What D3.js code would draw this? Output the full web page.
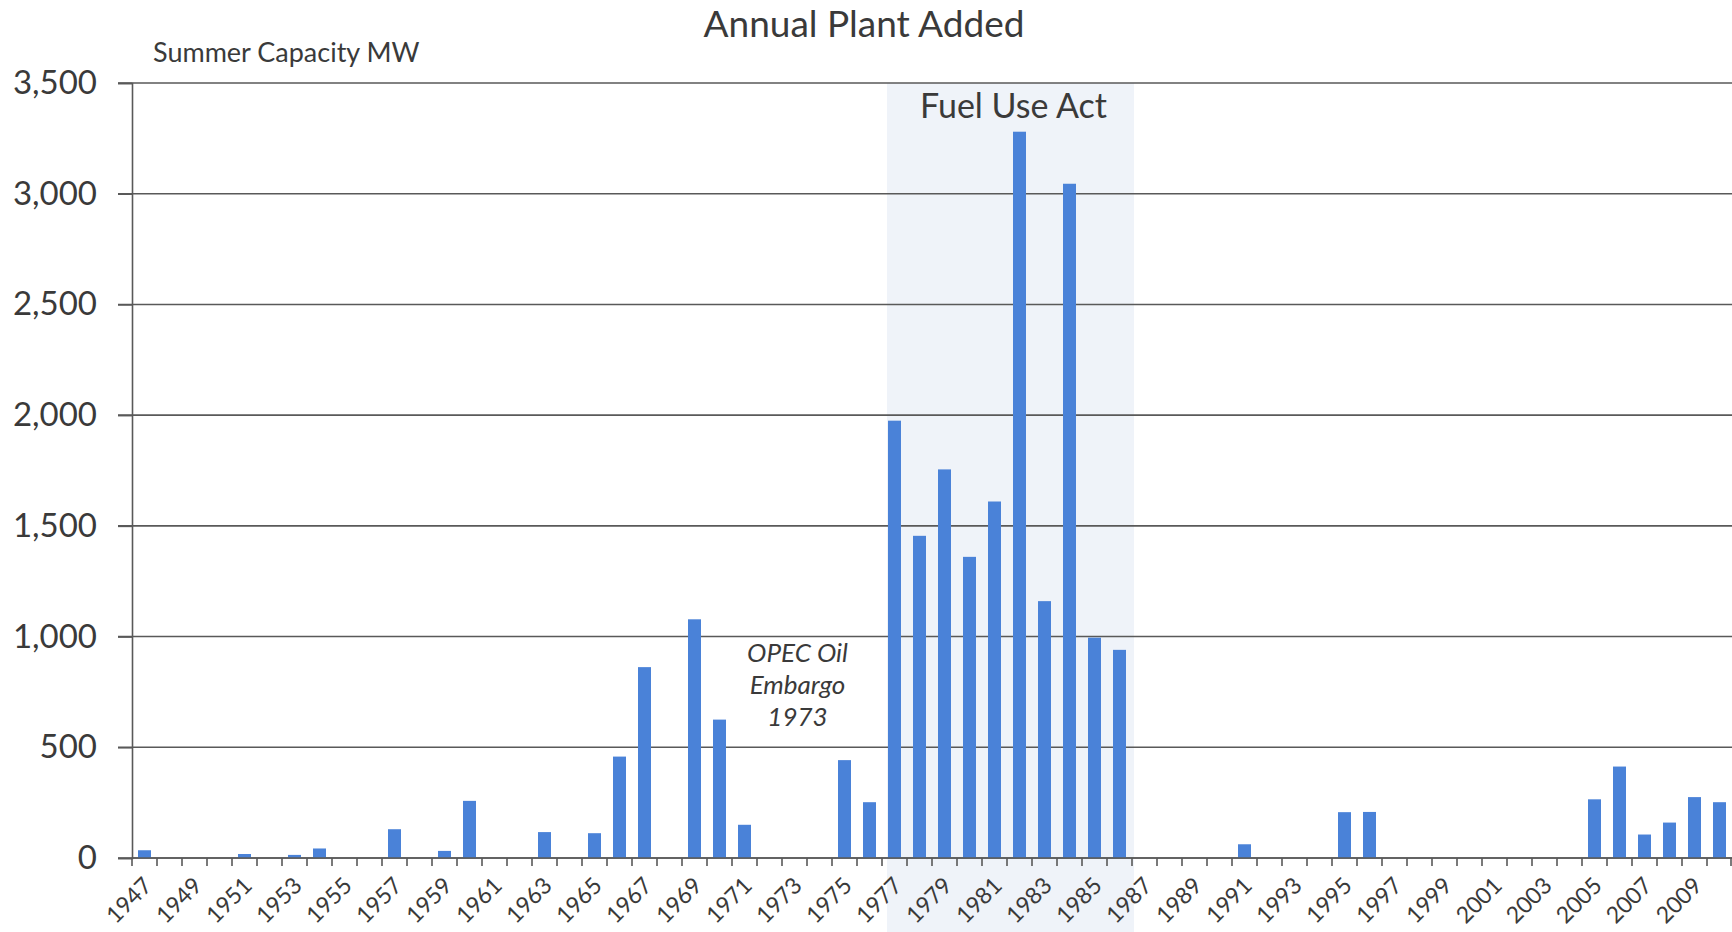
<!DOCTYPE html>
<html>
<head>
<meta charset="utf-8">
<script src="https://cdn.jsdelivr.net/npm/d3@7/dist/d3.min.js"></script>
<style>
  html, body { margin: 0; padding: 0; background: #ffffff; }
  svg { display: block; }
  text { font-family: Lato, "Open Sans", sans-serif; fill: #3a3a3a; }
</style>
</head>
<body>
<svg id="chart" width="1732" height="932"></svg>
<script>
// ---- data ----
const years = d3.range(1947, 2011).map(String);
const capacityMW = [
  35, 0, 0, 0, 18, 0, 14, 43, 0, 0,          // 1947-1956
  130, 0, 32, 258, 0, 0, 117, 0, 112, 458,   // 1957-1966
  862, 0, 1078, 625, 150, 0, 0, 0, 442, 252, // 1967-1976
  1975, 1455, 1755, 1360, 1610, 3280, 1160, 3045, 995, 940, // 1977-1986
  0, 0, 0, 0, 62, 0, 0, 0, 207, 208,         // 1987-1996
  0, 0, 0, 0, 0, 0, 0, 0, 265, 413,          // 1997-2006
  106, 160, 275, 252                         // 2007-2010
];
const yTicks = [0, 500, 1000, 1500, 2000, 2500, 3000, 3500];
const xTickLabels = years.filter((y, i) => i % 2 === 0);
const fuelUseActYears = ["1977", "1986"];
const titleText = "Annual Plant Added";
const yAxisTitle = "Summer Capacity MW";
const fuelUseLabel = "Fuel Use Act";
const opecLabel = ["OPEC Oil", "Embargo", "1973"];
const opecYear = "1973";

// ---- layout ----
const W = 1732, H = 932;
const margin = { left: 132, right: 0, top: 83, bottom: 74 };
const svg = d3.select("#chart");

const x = d3.scaleBand().domain(years).range([margin.left, W - margin.right]).paddingInner(0.48).paddingOuter(0.24);
const xb = d3.scaleBand().domain(years).range([margin.left, W - margin.right]).padding(0);
const y = d3.scaleLinear().domain([0, 3500]).range([H - margin.bottom, margin.top]);

// Fuel Use Act shading
const shadeX0 = xb(fuelUseActYears[0]) + 5;
const shadeX1 = xb(fuelUseActYears[1]) + xb.bandwidth() + 2;
svg.append("rect")
  .attr("x", shadeX0).attr("y", y(3500))
  .attr("width", shadeX1 - shadeX0).attr("height", H - y(3500))
  .attr("fill", "#eff3f9");

// gridlines
svg.append("g")
  .selectAll("line").data(yTicks).join("line")
  .attr("x1", margin.left - 14).attr("x2", W)
  .attr("y1", d => y(d)).attr("y2", d => y(d))
  .attr("stroke", "#595959").attr("stroke-width", 1.6);

// y axis labels
const yAxis = d3.axisLeft(y).tickValues(yTicks).tickFormat(d3.format(",")).tickSize(14).tickPadding(21);
const gy = svg.append("g").attr("transform", `translate(${margin.left},0)`).call(yAxis);
gy.select(".domain").attr("stroke", "#595959").attr("stroke-width", 1.6);
gy.selectAll(".tick line").attr("stroke", "#595959").attr("stroke-width", 1.6);
gy.selectAll(".tick text").style("font-family", "Lato, sans-serif").style("font-size", "33px").attr("fill", "#3a3a3a");

// bars
svg.append("g").selectAll("rect").data(years).join("rect")
  .attr("x", (d) => x(d))
  .attr("width", x.bandwidth())
  .attr("y", (d, i) => y(capacityMW[i]))
  .attr("height", (d, i) => y(0) - y(capacityMW[i]))
  .attr("fill", "#4a82d8");

// x axis (ticks at band boundaries)
const baseY = y(0);
const gx = svg.append("g");
gx.append("line").attr("x1", margin.left).attr("x2", W).attr("y1", baseY).attr("y2", baseY)
  .attr("stroke", "#595959").attr("stroke-width", 1.6);
gx.selectAll("line.tk").data(years.concat(["end"])).join("line").attr("class", "tk")
  .attr("x1", d => d === "end" ? W - 1 : xb(d)).attr("x2", d => d === "end" ? W - 1 : xb(d))
  .attr("y1", baseY).attr("y2", baseY + 8)
  .attr("stroke", "#595959").attr("stroke-width", 1.6);
gx.selectAll("text").data(xTickLabels).join("text")
  .attr("transform", d => `translate(${xb(d) + xb.bandwidth() / 2 + 9},${baseY + 29}) rotate(-45)`)
  .attr("text-anchor", "end")
  .style("font-size", "23px")
  .text(d => d);

// titles
svg.append("text").attr("x", 864).attr("y", 37).attr("text-anchor", "middle")
  .style("font-size", "37px").text(titleText);
svg.append("text").attr("x", 153).attr("y", 62).attr("text-anchor", "start")
  .style("font-size", "27px").text(yAxisTitle);

// annotations
svg.append("text").attr("x", (shadeX0 + shadeX1) / 2 + 3).attr("y", 118).attr("text-anchor", "middle")
  .style("font-size", "34px").text(fuelUseLabel);

const opecX = xb(opecYear) + xb.bandwidth() / 2 + 3;
svg.append("g").selectAll("text").data(opecLabel).join("text")
  .attr("x", opecX).attr("y", (d, i) => 662 + i * 32)
  .attr("text-anchor", "middle")
  .style("font-size", "26px").style("font-style", "italic")
  .text(d => d);
</script>
</body>
</html>
